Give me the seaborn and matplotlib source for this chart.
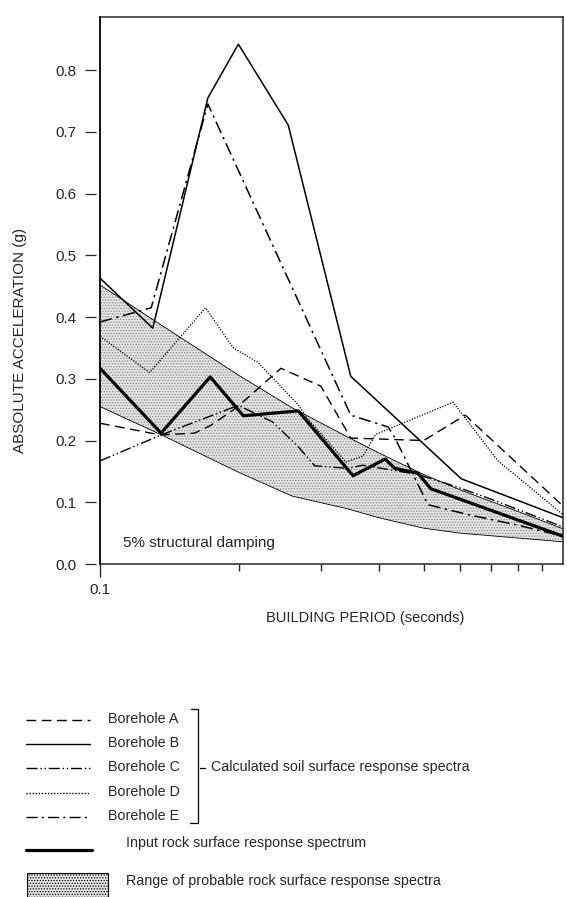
import matplotlib
matplotlib.use("Agg")
import matplotlib.pyplot as plt
from matplotlib.lines import Line2D
from matplotlib.patches import Rectangle
from matplotlib.ticker import FixedLocator, FixedFormatter, NullFormatter
import seaborn as sns

# Response spectra: building period (s) vs absolute acceleration (g)
period_a = [0.1, 0.135, 0.16, 0.173, 0.197, 0.246, 0.30, 0.348, 0.50, 0.615, 1.0]
accel_a = [0.228, 0.209, 0.212, 0.224, 0.253, 0.317, 0.288, 0.204, 0.200, 0.241, 0.094]

period_b = [0.1, 0.130, 0.171, 0.199, 0.255, 0.348, 0.603, 1.0]
accel_b = [0.463, 0.382, 0.755, 0.842, 0.711, 0.304, 0.138, 0.075]

period_c = [0.1, 0.1355, 0.199, 0.236, 0.268, 0.291, 0.343, 0.37, 0.486, 0.584, 0.688, 1.0]
accel_c = [0.167, 0.209, 0.257, 0.230, 0.190, 0.159, 0.155, 0.160, 0.145, 0.126, 0.107, 0.060]

period_d = [0.1, 0.128, 0.169, 0.194, 0.219, 0.268, 0.281, 0.340, 0.37, 0.394, 0.579, 0.724, 1.0]
accel_d = [0.369, 0.310, 0.415, 0.350, 0.327, 0.258, 0.235, 0.165, 0.175, 0.210, 0.262, 0.167, 0.080]

period_e = [0.1, 0.129, 0.171, 0.348, 0.419, 0.433, 0.511, 0.624, 0.798, 1.0]
accel_e = [0.392, 0.415, 0.745, 0.241, 0.222, 0.205, 0.096, 0.080, 0.063, 0.045]

period_rock = [0.1, 0.1355, 0.173, 0.204, 0.268, 0.352, 0.413, 0.433, 0.486, 0.518, 1.0]
accel_rock = [0.317, 0.212, 0.303, 0.240, 0.248, 0.143, 0.170, 0.155, 0.147, 0.122, 0.045]

band_period = [0.1, 0.135, 0.2, 0.26, 0.34, 0.4, 0.5, 0.6, 0.8, 1.0]
band_upper = [0.452, 0.388, 0.305, 0.253, 0.207, 0.180, 0.145, 0.120, 0.085, 0.057]
band_lower = [0.255, 0.210, 0.148, 0.110, 0.090, 0.075, 0.058, 0.050, 0.042, 0.036]

y_ticks = [0.0, 0.1, 0.2, 0.3, 0.4, 0.5, 0.6, 0.7, 0.8]
y_tick_labels = ["0.0", "0.1", "0.2", "0.3", "0.4", "0.5", "0.6", "0.7", "0.8"]
x_major = [0.1]
x_major_labels = ["0.1"]
x_minor = [0.2, 0.3, 0.4, 0.5, 0.6, 0.7, 0.8, 0.9]

borehole_names = ["Borehole A", "Borehole B", "Borehole C", "Borehole D", "Borehole E"]

sns.set_style("ticks")
plt.rcParams["font.family"] = ["Liberation Sans", "DejaVu Sans"]
plt.rcParams["hatch.linewidth"] = 0.6

W, H = 567, 897
fig = plt.figure(figsize=(W / 100, H / 100), dpi=100)
fig.patch.set_facecolor("white")

def fx(x):
    return x / W

def fy(y):
    return 1 - y / H

ax = fig.add_axes([fx(100), fy(564), 463 / W, (564 - 17) / H])
ax.set_xscale("log")
ax.set_xlim(0.1, 1.0)
ax.set_ylim(0, 0.886)

# shaded range of probable rock surface spectra
ax.fill_between(band_period, band_lower, band_upper, facecolor="#e4e4e4",
                edgecolor="#8c8c8c", hatch="......", linewidth=0, zorder=1)
line_kw = dict(ax=ax, color="black", errorbar=None, legend=False)
sns.lineplot(x=band_period, y=band_upper, lw=0.6, zorder=2, **line_kw)
sns.lineplot(x=band_period, y=band_lower, lw=0.6, zorder=2, **line_kw)

styles = {
    "A": (0, (7, 4)),
    "B": "-",
    "C": (0, (8, 2, 1, 2, 1, 2)),
    "D": (0, (1, 1.2)),
    "E": (0, (8, 3, 1.5, 3)),
}
sns.lineplot(x=period_a, y=accel_a, lw=1.0, linestyle=styles["A"], zorder=3, **line_kw)
sns.lineplot(x=period_b, y=accel_b, lw=1.1, linestyle=styles["B"], zorder=3, **line_kw)
sns.lineplot(x=period_c, y=accel_c, lw=1.0, linestyle=styles["C"], zorder=3, **line_kw)
sns.lineplot(x=period_d, y=accel_d, lw=0.9, linestyle=styles["D"], zorder=3, **line_kw)
sns.lineplot(x=period_e, y=accel_e, lw=1.1, linestyle=styles["E"], zorder=3, **line_kw)
sns.lineplot(x=period_rock, y=accel_rock, lw=2.3, linestyle="-", zorder=4, **line_kw)

# frame
for side in ["top", "right", "bottom"]:
    ax.spines[side].set_linewidth(1.1)
ax.spines["left"].set_position(("outward", 3))
ax.spines["left"].set_visible(False)
ax.axvline(0.1, color="black", lw=1.3, clip_on=False, zorder=5)

ax.set_yticks(y_ticks)
ax.set_yticklabels(y_tick_labels)
ax.xaxis.set_major_locator(FixedLocator(x_major))
ax.xaxis.set_major_formatter(FixedFormatter(x_major_labels))
ax.xaxis.set_minor_locator(FixedLocator(x_minor))
ax.xaxis.set_minor_formatter(NullFormatter())
ax.tick_params(axis="y", length=8, width=0.9, pad=6, labelsize=11, direction="out")
ax.tick_params(axis="x", which="major", length=9, width=1.0, pad=5, labelsize=11, direction="out")
ax.tick_params(axis="x", which="minor", length=5, width=1.0, direction="out")

ax.set_xlabel("BUILDING PERIOD (seconds)", fontsize=10.5, va="center")
ax.xaxis.set_label_coords((365 - 100) / 463, -(618 - 564) / 547)
ax.set_ylabel("ABSOLUTE ACCELERATION (g)", fontsize=11, va="center")
ax.yaxis.set_label_coords((20 - 100) / 463, (564 - 340) / 547)

ax.text((123 - 100) / 463, (564 - 543) / 547, "5% structural damping",
        transform=ax.transAxes, fontsize=11, ha="left", va="center")

# key below the chart
key_fs = 10.3
key_rows = [720, 744, 768, 793, 817]
for name, key, yy in zip(borehole_names, "ABCDE", key_rows):
    fig.add_artist(Line2D([fx(26), fx(90)], [fy(yy), fy(yy)], color="black",
                          lw=1.0, linestyle=styles[key]))
    fig.text(fx(108), fy(yy - 1), name, fontsize=key_fs, ha="left", va="center")

bracket_kw = dict(color="black", lw=0.9)
fig.add_artist(Line2D([fx(191), fx(198), fx(198), fx(190)],
                      [fy(709), fy(709), fy(823), fy(823)], **bracket_kw))
fig.add_artist(Line2D([fx(200), fx(205)], [fy(768), fy(768)], **bracket_kw))
fig.text(fx(211), fy(767), "Calculated soil surface response spectra",
         fontsize=key_fs, ha="left", va="center")

fig.add_artist(Line2D([fx(26), fx(92)], [fy(850), fy(850)], color="black", lw=2.3))
fig.text(fx(126), fy(843), "Input rock surface response spectrum",
         fontsize=key_fs, ha="left", va="center")

fig.add_artist(Rectangle((fx(27), fy(899)), fx(108) - fx(27), fy(873) - fy(899),
                         transform=fig.transFigure, facecolor="#e4e4e4",
                         edgecolor="black", lw=0.8, hatch="......"))
fig.text(fx(126), fy(881), "Range of probable rock surface response spectra",
         fontsize=key_fs, ha="left", va="center")

fig.savefig("out.png", dpi=100, facecolor="white")
